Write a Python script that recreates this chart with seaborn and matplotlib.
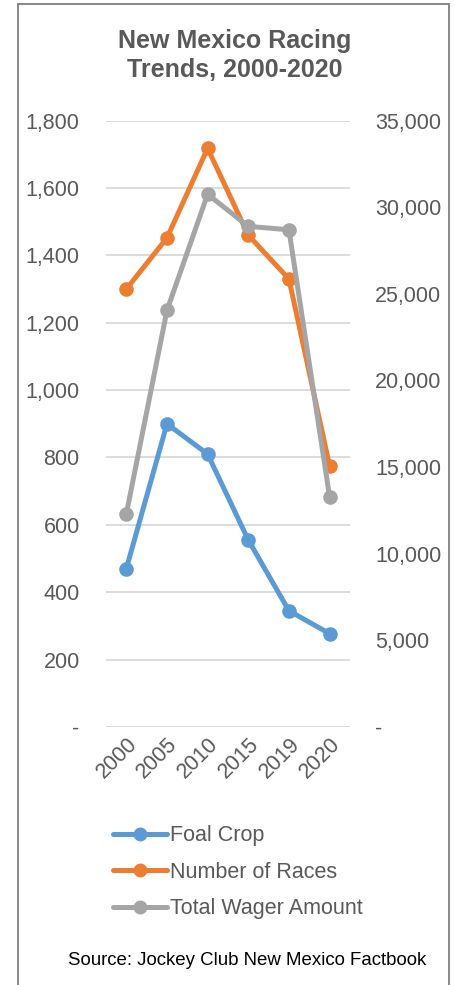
import matplotlib
matplotlib.use("Agg")
import matplotlib.pyplot as plt
from matplotlib.patches import Rectangle
from matplotlib.lines import Line2D
from matplotlib.ticker import FuncFormatter
import pandas as pd
import seaborn as sns

years = ["2000", "2005", "2010", "2015", "2019", "2020"]
foal_crop = [470, 900, 810, 555, 345, 277]
num_races = [1300, 1452, 1718, 1460, 1330, 775]
total_wager = [12300, 24050, 30750, 28900, 28700, 13300]

df = pd.DataFrame({"year": years, "foal": foal_crop, "races": num_races, "wager": total_wager})

blue = "#5B9BD5"
orange = "#ED7D31"
gray = "#A5A5A5"
txt = "#595959"

sns.set_style("white")
plt.rcParams["font.family"] = ["Liberation Sans", "DejaVu Sans"]

fig = plt.figure(figsize=(4.55, 9.85), dpi=100)
ax = fig.add_axes([0.233, 0.262, 0.536, 0.6155])
ax2 = ax.twinx()

lw, ms = 3.6, 10.5
sns.lineplot(data=df, x="year", y="foal", ax=ax, color=blue, marker="o", lw=lw,
             markersize=ms, markeredgewidth=0, sort=False)
sns.lineplot(data=df, x="year", y="races", ax=ax, color=orange, marker="o", lw=lw,
             markersize=ms, markeredgewidth=0, sort=False)
sns.lineplot(data=df, x="year", y="wager", ax=ax2, color=gray, marker="o", lw=lw,
             markersize=ms, markeredgewidth=0, sort=False)

fmt = FuncFormatter(lambda v, p: "-" if v == 0 else f"{int(v):,}")
ax.set_ylim(0, 1800)
ax.set_yticks(range(0, 1801, 200))
ax.yaxis.set_major_formatter(fmt)
ax2.set_ylim(0, 35000)
ax2.set_yticks(range(0, 35001, 5000))
ax2.yaxis.set_major_formatter(fmt)
ax.set_xlim(-0.5, 5.5)

ax.grid(axis="y", color="#D9D9D9", lw=1.3)
ax.set_axisbelow(True)
for a in (ax, ax2):
    for s in a.spines.values():
        s.set_visible(False)
    a.set_xlabel("")
    a.set_ylabel("")
    a.tick_params(length=0, labelsize=15.5, labelcolor=txt)
ax.tick_params(axis="y", pad=19)
ax2.tick_params(axis="y", pad=18)
ax.tick_params(axis="x", pad=5)
plt.setp(ax.get_xticklabels(), rotation=45, ha="right", rotation_mode="anchor")

fig.text(0.515, 0.944, "New Mexico Racing\nTrends, 2000-2020", ha="center", va="center",
         fontsize=18, fontweight="bold", color=txt, linespacing=1.25)

handles = [Line2D([], [], color=c, lw=lw, marker="o", markersize=10, markeredgewidth=0)
           for c in (blue, orange, gray)]
fig.legend(handles, ["Foal Crop", "Number of Races", "Total Wager Amount"],
           loc="upper left", bbox_to_anchor=(0.23, 0.171), frameon=False,
           fontsize=15.5, labelcolor=txt, handlelength=2.5, handletextpad=0.15,
           labelspacing=0.72, borderaxespad=0)

fig.text(0.543, 0.025, "Source: Jockey Club New Mexico Factbook", ha="center", va="center",
         fontsize=13.4, color="black")

fig.patches.append(Rectangle((18 / 455, -0.01), 431 / 455, 1 - 4 / 985 + 0.01,
                             transform=fig.transFigure, fill=False, ec="#7F7F7F", lw=1.3))

fig.savefig("out.png", dpi=100)
